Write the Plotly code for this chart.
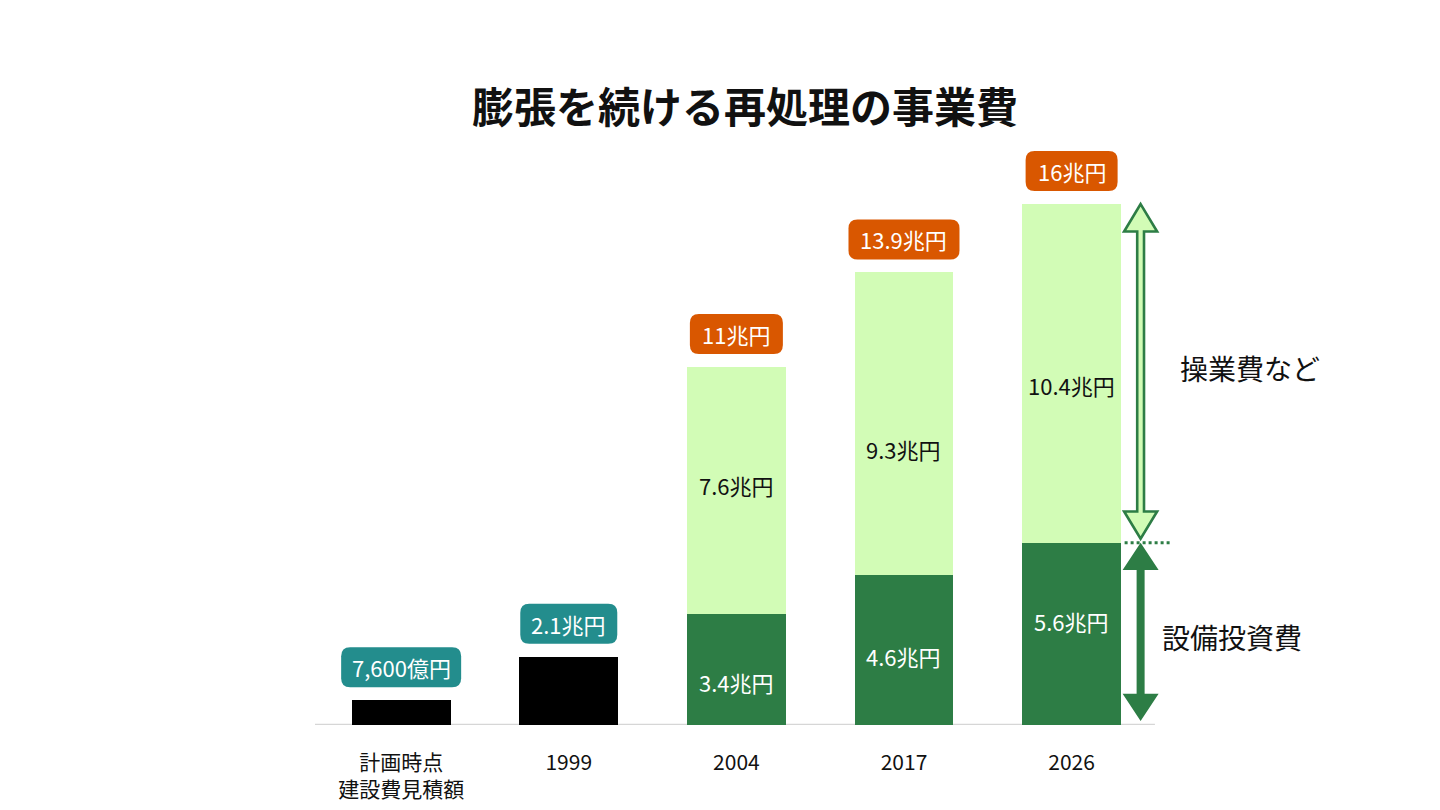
import plotly.graph_objects as go

# data
categories = ["計画時点<br>建設費見積額", "1999", "2004", "2017", "2026"]
capex = [0.76, 2.1, 3.4, 4.6, 5.6]          # 設備投資費 (兆円)
opex = [None, None, 7.6, 9.3, 10.4]         # 操業費など (兆円)
totals = [0.76, 2.1, 11, 13.9, 16]
total_labels = ["7,600億円", "2.1兆円", "11兆円", "13.9兆円", "16兆円"]

# style
FONT = "Noto Sans CJK JP"
DARK = "#2d7d45"
LIGHT = "#d2fcb6"
ORANGE = "#d95700"
TEAL = "#238d8d"
capex_colors = ["#000000", "#000000", DARK, DARK, DARK]
box_widths = [120, 97, 93, 111, 92]
box_colors = [TEAL, TEAL, ORANGE, ORANGE, ORANGE]
opex_shift = [None, None, 6, -25, -12]
capex_shift = [None, None, -12, -6, 13]

fig = go.Figure()
fig.add_trace(go.Bar(
    x=categories, y=capex, name="設備投資費",
    marker_color=capex_colors, marker_line_width=0, width=0.59,
    hoverinfo="skip",
))
fig.add_trace(go.Bar(
    x=categories, y=opex, name="操業費など",
    marker_color=LIGHT, marker_line_width=0, width=0.59,
    hoverinfo="skip",
))


def rounded_box(w, h, r, y0):
    x0, x1 = -w / 2, w / 2
    y1 = y0 + h
    return (
        f"M {x0 + r},{y0} L {x1 - r},{y0} Q {x1},{y0} {x1},{y0 + r} "
        f"L {x1},{y1 - r} Q {x1},{y1} {x1 - r},{y1} L {x0 + r},{y1} "
        f"Q {x0},{y1} {x0},{y1 - r} L {x0},{y0 + r} Q {x0},{y0} {x0 + r},{y0} Z"
    )


shapes = []
annotations = []

# baseline under the bars
shapes.append(dict(
    type="line", xref="x", yref="y", x0=-0.514, x1=4.497, y0=0, y1=0,
    line=dict(color="#d6d6d6", width=2.5), layer="below",
))

# total labels in rounded boxes (x given as category index)
for i, (tot, lab, w, col) in enumerate(zip(totals, total_labels, box_widths, box_colors)):
    shapes.append(dict(
        type="path", xref="x", yref="y",
        xsizemode="pixel", ysizemode="pixel", xanchor=i, yanchor=tot,
        path=rounded_box(w, 40, 9, 13),
        fillcolor=col, line=dict(width=0), layer="above",
    ))
    annotations.append(dict(
        x=i, y=tot, xref="x", yref="y", text=lab, showarrow=False,
        yshift=33, font=dict(family=FONT, size=22, color="white"),
    ))

# segment labels
for i, (c, o, cs, os_) in enumerate(zip(capex, opex, capex_shift, opex_shift)):
    if o is None:
        continue
    annotations.append(dict(
        x=i, y=c / 2, xref="x", yref="y", text=f"{c}兆円", showarrow=False,
        yshift=cs, font=dict(family=FONT, size=22, color="white"),
    ))
    annotations.append(dict(
        x=i, y=c + o / 2, xref="x", yref="y", text=f"{o}兆円", showarrow=False,
        yshift=os_, font=dict(family=FONT, size=22, color="#111111"),
    ))

# arrows beside the last bar
last = len(categories) - 1
y_top = totals[-1]
y_mid = capex[-1]
DX = 69
HEAD = 0.84
GAP = 0.12


def double_arrow(top, bottom, head_half, shaft_half):
    a, b = top - HEAD, bottom + HEAD
    return (
        f"M {DX},{top} L {DX + head_half},{a} L {DX + shaft_half},{a} "
        f"L {DX + shaft_half},{b} L {DX + head_half},{b} L {DX},{bottom} "
        f"L {DX - head_half},{b} L {DX - shaft_half},{b} L {DX - shaft_half},{a} "
        f"L {DX - head_half},{a} Z"
    )


shapes.append(dict(
    type="path", xref="x", yref="y", xsizemode="pixel", xanchor=last,
    path=double_arrow(y_top, y_mid + GAP, 16.5, 3.4),
    fillcolor=LIGHT, line=dict(color=DARK, width=2.6), layer="above",
))
shapes.append(dict(
    type="path", xref="x", yref="y", xsizemode="pixel", xanchor=last,
    path=double_arrow(y_mid, GAP, 18, 4),
    fillcolor=DARK, line=dict(width=0), layer="above",
))
shapes.append(dict(
    type="line", xref="x", yref="y", xsizemode="pixel", xanchor=last,
    x0=53, x1=98, y0=y_mid, y1=y_mid,
    line=dict(color=DARK, width=3, dash="dot"), layer="above",
))

annotations.append(dict(
    x=last, y=(y_mid + y_top) / 2, xref="x", yref="y", text="操業費など",
    showarrow=False, xshift=178, yshift=5,
    font=dict(family=FONT, size=28, color="#111111"),
))
annotations.append(dict(
    x=last, y=y_mid / 2, xref="x", yref="y", text="設備投資費",
    showarrow=False, xshift=160, yshift=-3,
    font=dict(family=FONT, size=28, color="#111111"),
))

fig.update_layout(
    width=1440, height=810,
    barmode="stack",
    showlegend=False,
    paper_bgcolor="white",
    plot_bgcolor="white",
    font=dict(family=FONT, color="#111111"),
    margin=dict(l=307, r=248, t=131, b=93),
    title=dict(
        text="<b>膨張を続ける再処理の事業費</b>",
        x=737 / 1440, xanchor="center",
        y=1 - 100 / 810, yanchor="middle",
        font=dict(family=FONT, size=42, color="#111111"),
    ),
    shapes=shapes,
    annotations=annotations,
)
fig.update_xaxes(
    type="category",
    range=[-0.514, 4.766],
    showline=False,
    showgrid=False, ticks="", ticklabelstandoff=23,
    tickfont=dict(family=FONT, size=21, color="#111111"),
)
fig.update_yaxes(
    range=[0, 18], visible=False, showgrid=False, zeroline=False,
)

fig.write_html("out.html")
